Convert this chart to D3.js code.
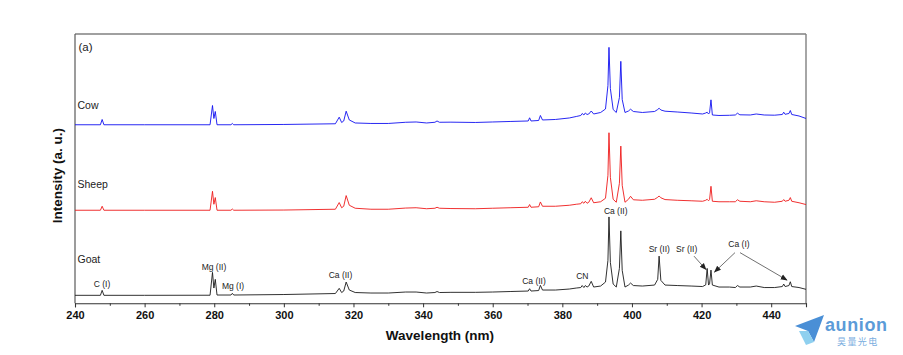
<!DOCTYPE html>
<html>
<head>
<meta charset="utf-8">
<script src="https://cdn.jsdelivr.net/npm/d3@7"></script>
<style>
  html, body { margin: 0; padding: 0; background: #fff; }
  svg { display: block; font-family: "Liberation Sans", Arial, sans-serif; }
</style>
</head>
<body>
<svg id="chart" width="903" height="355"></svg>
<script>
// ---------- data ----------
const wavelength = [240,247.3,247.8,248.3,260,278.8,279.5,279.9,280.3,280.8,284.8,285.2,285.6,300,314.8,315.9,316.6,317.2,317.9,318.8,320.5,325,330,335,338,341,343.4,344,344.7,348,355,360,365,370.2,370.6,371,373.2,373.7,374.3,378,382,384,385.3,385.7,386.2,386.6,387.1,387.6,388.3,389,391,392.4,393.1,393.4,393.8,394.6,395.5,396.4,396.8,397.2,398,399,399.6,400.4,403,406.5,407.4,407.8,408.3,409.5,413,417,420.3,421.2,421.6,422.0,422.3,422.7,423.1,425,428,429.7,430.3,431,434,435.7,438,441,443.2,443.6,444,445.1,445.5,445.9,448,450];

const goat = [4.0,4.0,6.5,4.0,4.0,4.05,15.5,7.65,12.0,4.15,4.15,5.0,4.15,4.4,4.9,7.5,5.4,6.15,10.65,6.65,5.4,5.15,5.15,5.65,5.65,5.15,5.4,5.9,5.4,5.5,5.5,5.65,5.9,6.15,7.3,6.15,6.4,9.0,6.65,6.65,7.15,7.65,7.9,8.9,7.9,8.9,8.15,8.65,11.0,8.15,8.65,10.65,21.5,43.3,20.5,9.65,8.15,17.5,36.3,16.5,8.15,9.15,10.15,8.9,8.65,9.15,12.0,23.65,11.5,9.15,8.9,8.65,8.4,9.25,17.5,9.15,9.75,16.65,9.15,8.15,8.15,7.9,8.9,8.15,8.15,8.65,7.9,7.9,8.4,9.65,8.4,8.9,10.8,8.4,7.9,7.0];

const sheep = [46.65,46.65,48.65,46.65,46.65,46.65,56.15,49.65,53.0,46.65,46.65,47.25,46.65,46.75,47.15,50.5,47.9,48.65,54.0,49.15,47.65,47.15,47.15,47.75,47.9,47.4,47.65,48.15,47.65,47.5,47.4,47.65,47.9,48.15,49.5,48.15,48.4,50.8,48.65,48.65,49.15,49.65,49.9,50.9,50.15,51.15,50.15,50.65,52.9,50.4,50.9,52.65,64.15,85.5,63.15,52.15,50.65,60.15,78.8,59.15,50.65,52.15,53.65,51.9,51.65,52.15,53.15,53.8,52.9,52.0,51.65,51.4,51.15,51.65,52.15,51.4,52.0,58.65,51.15,50.9,50.9,50.9,51.9,51.15,50.9,51.4,50.9,50.65,51.15,52.0,51.15,51.65,53.0,51.15,50.4,49.5];

const cow = [89.5,89.5,92.15,89.5,89.5,89.5,99.15,92.65,96.15,89.5,89.5,90.15,89.5,89.65,90.0,93.3,90.65,91.4,96.3,91.9,90.4,90.15,90.15,90.75,90.9,90.4,90.75,91.4,90.75,90.8,90.65,90.9,91.15,91.4,93.0,91.4,91.65,94.15,91.9,92.15,92.9,93.65,94.15,95.15,94.4,95.4,94.65,94.9,96.4,94.9,95.65,97.4,109.15,128.3,107.65,97.15,95.65,103.15,121.3,102.15,95.65,96.4,97.3,96.15,95.65,96.15,97.15,97.8,96.9,96.3,95.9,95.4,94.9,95.4,95.8,94.9,95.5,102.0,94.4,94.15,94.25,94.4,95.3,94.5,94.4,94.9,94.4,94.3,94.65,95.8,94.75,95.15,96.65,94.65,93.9,92.65];

const seriesNames = ["Cow", "Sheep", "Goat"];
const seriesLabelValue = [97.4, 57.6, 20.4];   // a.u. level of each sample name
const majorTicks = [240,260,280,300,320,340,360,380,400,420,440];
const minorTicks = [250,270,290,310,330,350,370,390,410,430,450];

// peak annotations: text, wavelength (nm), intensity (a.u.)
const peakLabels = ["C (I)","Mg (II)","Mg (I)","Ca (II)","Ca (II)","CN","Ca (II)","Sr (II)","Sr (II)","Ca (I)"];
const peakLabelX = [247.76,279.93,285.39,316.27,371.86,385.74,395.33,407.85,415.72,430.75];
const peakLabelY = [8.4,16.9,7.4,12.65,9.9,12.4,44.9,25.65,25.65,28.4];
// arrows: from (wl, a.u.) to (wl, a.u.)
const arrowFrom = [[417.82,23.65],[429.6,25.4],[431.04,25.4]];
const arrowTo   = [[421.27,16.9],[423.71,15.65],[444.54,11.65]];

// ---------- chart ----------
const svg = d3.select("#chart");
const L = 75, R = 806, T = 34, B = 303.3;
const x = d3.scaleLinear().domain([240, 450]).range([L, R]);
const y = d3.scaleLinear().domain([0, 135]).range([B, T]);

const defs = svg.append("defs");
defs.append("marker").attr("id", "ah").attr("viewBox", "0 0 10 10")
  .attr("refX", 9).attr("refY", 5).attr("markerWidth", 7).attr("markerHeight", 7)
  .attr("markerUnits", "userSpaceOnUse").attr("orient", "auto")
  .append("path").attr("d", "M0,1 L10,5 L0,9 Z").attr("fill", "#222");

// frame top/right
svg.append("line").attr("x1", L).attr("x2", R).attr("y1", T).attr("y2", T)
  .attr("stroke", "#808080").attr("stroke-width", 1.4);
svg.append("line").attr("x1", R).attr("x2", R).attr("y1", T).attr("y2", B)
  .attr("stroke", "#808080").attr("stroke-width", 1.4);
svg.append("line").attr("x1", L).attr("x2", L).attr("y1", T).attr("y2", B)
  .attr("stroke", "#5a5a5a").attr("stroke-width", 1.2);

// spectra
const colors = ["#1010f0", "#ee1a1a", "#1a1a1a"];
const series = [cow, sheep, goat];
const line = d3.line().x((d, i) => x(wavelength[i])).y(d => y(d));
series.forEach((s, k) => {
  svg.append("path").datum(s).attr("d", line)
    .attr("fill", "none").attr("stroke", colors[k]).attr("stroke-width", 0.9)
    .attr("stroke-linejoin", "round");
});

// x axis
const xAxis = d3.axisBottom(x).tickValues(majorTicks).tickSize(4).tickPadding(4);
const gx = svg.append("g").attr("transform", `translate(0,${B})`).call(xAxis);
gx.select(".domain").attr("stroke", "#333").attr("stroke-width", 1.1);
gx.selectAll(".tick line").attr("stroke", "#333");
gx.selectAll(".tick text").attr("font-size", 11).attr("font-weight", "bold")
  .attr("fill", "#111").attr("font-family", "Liberation Sans, Arial, sans-serif");
const xMinor = d3.axisBottom(x).tickValues(minorTicks).tickSize(2.5).tickFormat("");
const gxm = svg.append("g").attr("transform", `translate(0,${B})`).call(xMinor);
gxm.select(".domain").remove();
gxm.selectAll(".tick line").attr("stroke", "#333");

// axis titles
svg.append("text").attr("x", (L + R) / 2 - 0.5).attr("y", 340)
  .attr("text-anchor", "middle").attr("font-size", 13.5).attr("font-weight", "bold")
  .attr("fill", "#111").text("Wavelength (nm)");
svg.append("text").attr("transform", `translate(61.5,${(T + B) / 2 + 7}) rotate(-90)`)
  .attr("text-anchor", "middle").attr("font-size", 13.5).attr("font-weight", "bold")
  .attr("fill", "#111").text("Intensity (a. u.)");

// panel tag
svg.append("text").attr("x", L + 3.5).attr("y", 51).attr("font-size", 11.5)
  .attr("fill", "#222").text("(a)");

// sample names
seriesNames.forEach((n, k) => {
  svg.append("text").attr("x", L + 2.5).attr("y", y(seriesLabelValue[k]))
    .attr("font-size", 10.5).attr("fill", "#222").text(n);
});

// peak labels
peakLabels.forEach((t, i) => {
  svg.append("text").attr("x", x(peakLabelX[i])).attr("y", y(peakLabelY[i]))
    .attr("text-anchor", "middle").attr("font-size", 8.5).attr("fill", "#222").text(t);
});
arrowFrom.forEach((f, i) => {
  svg.append("line").attr("x1", x(f[0])).attr("y1", y(f[1]))
    .attr("x2", x(arrowTo[i][0])).attr("y2", y(arrowTo[i][1]))
    .attr("stroke", "#333").attr("stroke-width", 0.7).attr("marker-end", "url(#ah)");
});

// watermark logo
const wm = svg.append("g");
wm.append("path").attr("d", "M795,326 L824,315 L814,342 L808,331 Z").attr("fill", "#4a8fd6");
wm.append("path").attr("d", "M799,331 L808,331 L814,342 L806,345 Z").attr("fill", "#8fd0ef");
wm.append("text").attr("x", 825).attr("y", 330.5).attr("font-size", 18)
  .attr("font-weight", "bold").attr("fill", "#5b9bd8").attr("letter-spacing", 0.6).text("aunion");
wm.append("text").attr("x", 837).attr("y", 345).attr("font-size", 9)
  .attr("font-family", "Noto Sans CJK SC, sans-serif").attr("fill", "#7aaee0")
  .attr("letter-spacing", 1.4).text("昊量光电");
</script>
</body>
</html>
